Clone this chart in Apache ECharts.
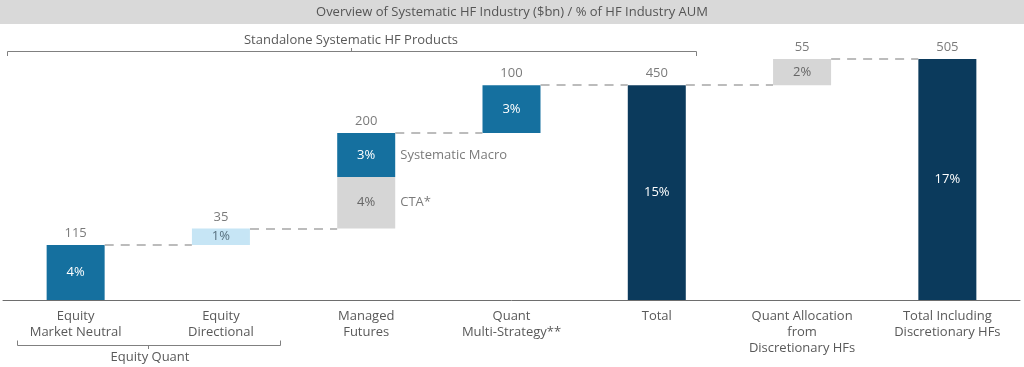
<!DOCTYPE html>
<html>
<head>
<meta charset="utf-8">
<script src="https://cdn.jsdelivr.net/npm/echarts@6/dist/echarts.min.js"></script>
<style>html,body{margin:0;padding:0;background:#fff}#c{width:1024px;height:367px}</style>
</head>
<body>
<div id="c"></div>
<script>
// ---- data ----
const categories = ['Equity\nMarket Neutral', 'Equity\nDirectional', 'Managed\nFutures', 'Quant\nMulti-Strategy**', 'Total', 'Quant Allocation\nfrom\nDiscretionary HFs', 'Total Including\nDiscretionary HFs'];
const values = [115, 35, 200, 100, 450, 55, 505];
const isTotal = [false, false, false, false, true, false, true];
const pctLabels = ['4%', '1%', '', '3%', '15%', '2%', '17%'];
const splitIndex = 2;
const splitNames = ['CTA*', 'Systematic Macro'];
const splitValues = [108, 92];
const splitPct = ['4%', '3%'];
const titleText = 'Overview of Systematic HF Industry ($bn) / % of HF Industry AUM';
const topBracketText = 'Standalone Systematic HF Products';
const bottomBracketText = 'Equity Quant';

// ---- styles ----
const FONT = 'Open Sans';
const TXT = '#595959';
const MID = '#15709f', NAVY = '#0b3a5c', LIGHT = '#c6e5f5', GREY = '#d6d6d6';
const barColors = [MID, LIGHT, null, MID, NAVY, GREY, NAVY];
const inColors = ['#fff', '#58707e', null, '#fff', '#fff', '#666', '#fff'];
const splitColors = [GREY, MID];
const splitInColors = ['#666', '#fff'];
const BAR_W = 58;

// ---- derived ----
const base = [], tops = [];
let running = 0;
values.forEach((v, i) => {
  const b = isTotal[i] ? 0 : running;
  base.push(b); tops.push(b + v);
  if (!isTotal[i]) running += v;
});

const lowerData = values.map((v, i) => {
  const val = i === splitIndex ? splitValues[0] : v;
  const lab = i === splitIndex ? splitPct[0] : pctLabels[i];
  return {
    value: val,
    itemStyle: { color: i === splitIndex ? splitColors[0] : barColors[i] },
    label: { show: true, position: 'inside', formatter: lab, color: i === splitIndex ? splitInColors[0] : inColors[i] }
  };
});
const upperData = values.map((v, i) => i === splitIndex ? {
  value: splitValues[1],
  itemStyle: { color: splitColors[1] },
  label: { show: true, position: 'inside', formatter: splitPct[1], color: splitInColors[1] }
} : '-');

const catW = 1 / categories.length; // not used for positioning
const halfBar = 0.2; // half of bar width in category units (58 / 145)
const connectors = [];
for (let i = 0; i < values.length - 1; i++) {
  const lvl = tops[i];
  connectors.push([{ coord: [i + halfBar, lvl] }, { coord: [i + 1 - halfBar, lvl] }]);
}
const sideLabelData = [
  { value: [splitIndex + halfBar, base[splitIndex] + splitValues[0] / 2], name: splitNames[0] },
  { value: [splitIndex + halfBar, base[splitIndex] + splitValues[0] + splitValues[1] / 2], name: splitNames[1] }
];

const chart = echarts.init(document.getElementById('c'), null, { renderer: 'canvas' });
const txtStyle = { fontFamily: FONT, fontSize: 13, color: TXT };
chart.setOption({
  animation: false,
  textStyle: { fontFamily: FONT },
  grid: { left: 3, right: 4, top: 59, bottom: 67 },
  xAxis: [{
    type: 'category', data: categories,
    axisLine: { lineStyle: { color: '#6e6e6e', width: 1 } },
    axisTick: { show: false },
    axisLabel: { interval: 0, margin: 8, fontFamily: FONT, fontSize: 13, color: TXT, lineHeight: 16 }
  }, {
    type: 'value', min: -0.5, max: 6.5, show: false
  }],
  yAxis: { type: 'value', min: 0, max: 505, show: false },
  series: [
    { type: 'bar', stack: 'w', barWidth: BAR_W, data: base, itemStyle: { color: 'transparent' }, silent: true },
    { type: 'bar', stack: 'w', barWidth: BAR_W, data: lowerData, label: { fontFamily: FONT, fontSize: 13 } },
    { type: 'bar', stack: 'w', barWidth: BAR_W, data: upperData, label: { fontFamily: FONT, fontSize: 13 } },
    {
      type: 'scatter', symbolSize: 0, data: tops.map((t, i) => [i, t]),
      label: { show: true, position: 'top', distance: 5, formatter: p => String(values[p.dataIndex]), ...txtStyle },
      silent: true
    },
    {
      type: 'scatter', xAxisIndex: 1, symbolSize: 0, data: sideLabelData, silent: true,
      label: { show: true, position: 'right', distance: 5, formatter: p => p.name, ...txtStyle },
      markLine: {
        silent: true, symbol: 'none', label: { show: false },
        lineStyle: { color: '#a6a6a6', width: 1.6, type: [9, 7] },
        data: connectors
      }
    }
  ],
  graphic: [
    { type: 'rect', left: 0, top: 0, shape: { width: 1024, height: 24 }, style: { fill: '#d9d9d9' }, silent: true },
    { type: 'text', x: 512, y: 12, style: { text: titleText, align: 'center', verticalAlign: 'middle', font: '13px "Open Sans"', fill: '#555' } },
    { type: 'text', x: 351, y: 40, style: { text: topBracketText, align: 'center', verticalAlign: 'middle', font: '13px "Open Sans"', fill: TXT } },
    { type: 'polyline', shape: { points: [[7.5, 56], [7.5, 51.5], [696.5, 51.5], [696.5, 56]] }, style: { stroke: '#808080', lineWidth: 1, fill: null } },
    { type: 'line', shape: { x1: 351.5, y1: 51.5, x2: 351.5, y2: 48 }, style: { stroke: '#808080', lineWidth: 1 } },
    { type: 'polyline', shape: { points: [[17.5, 340.5], [17.5, 345.5], [280.5, 345.5], [280.5, 340.5]] }, style: { stroke: '#808080', lineWidth: 1, fill: null } },
    { type: 'line', shape: { x1: 148.5, y1: 345.5, x2: 148.5, y2: 349 }, style: { stroke: '#808080', lineWidth: 1 } },
    { type: 'text', x: 150, y: 357, style: { text: bottomBracketText, align: 'center', verticalAlign: 'middle', font: '13px "Open Sans"', fill: TXT } }
  ]
});
</script>
</body>
</html>
